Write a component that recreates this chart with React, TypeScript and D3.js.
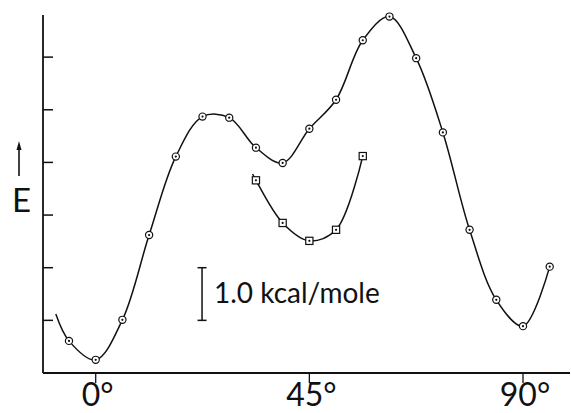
import React from "react";
import * as d3 from "d3";

// Torsion angle (degrees) and relative energy (kcal/mole)
const circleAngles = [-5.625, 0, 5.625, 11.25, 16.875, 22.5, 28.125, 33.75, 39.375, 45, 50.625, 56.25, 61.875, 67.5, 73.125, 78.75, 84.375, 90, 95.625];
const circleEnergies = [0.61, 0.25, 1.01, 2.62, 4.11, 4.87, 4.85, 4.28, 3.99, 4.64, 5.19, 6.32, 6.77, 5.98, 4.57, 2.72, 1.39, 0.89, 2.02];
const circleLeadIn = { angle: -8.4, energy: 1.12 };

const squareAngles = [33.75, 39.375, 45, 50.625, 56.25];
const squareEnergies = [3.66, 2.85, 2.51, 2.72, 4.12];
const squareLeadIn = { angle: 33.05, energy: 3.78 };

const xTicks = [0, 45, 90];
const xTickLabels = ["0°", "45°", "90°"];
const yTicks = [1, 2, 3, 4, 5, 6];
const scaleBarLabel = "1.0 kcal/mole";

const W = 571;
const H = 413;

export default function App() {
  const x = d3.scaleLinear().domain([-11.1, 99.9]).range([43, 570]);
  const y = d3.scaleLinear().domain([0, 6.8]).range([373, 15]);

  const circlePts: [number, number][] = circleAngles.map((a, i) => [a, circleEnergies[i]]);
  const squarePts: [number, number][] = squareAngles.map((a, i) => [a, squareEnergies[i]]);

  const line = d3
    .line<[number, number]>()
    .x((d) => x(d[0]))
    .y((d) => y(d[1]))
    .curve(d3.curveCatmullRom.alpha(0.5));

  const mainPath = line([[circleLeadIn.angle, circleLeadIn.energy], ...circlePts]) || "";
  const sqPath = line([[squareLeadIn.angle, squareLeadIn.energy], ...squarePts]) || "";

  const font = "Lato, 'DejaVu Sans', sans-serif";
  const barX = x(22.4);
  const barTop = y(2.0);
  const barBot = y(1.0);

  return (
    <svg
      width={W}
      height={H}
      style={{ position: "absolute", left: 0, top: 0, background: "#fff" }}
    >
      {/* axes */}
      <line x1={x.range()[0]} x2={x.range()[0]} y1={y.range()[1]} y2={y.range()[0]} stroke="#111" strokeWidth={1.8} />
      <line x1={x.range()[0]} x2={x.range()[1]} y1={y.range()[0]} y2={y.range()[0]} stroke="#111" strokeWidth={1.8} />
      {yTicks.map((t) => (
        <line key={t} x1={x.range()[0]} x2={x.range()[0] + 10} y1={y(t)} y2={y(t)} stroke="#111" strokeWidth={1.5} />
      ))}
      {xTicks.map((t, i) => (
        <g key={t}>
          <line x1={x(t)} x2={x(t)} y1={y.range()[0]} y2={y.range()[0] + 10} stroke="#111" strokeWidth={1.3} />
          <text x={x(t) + 2} y={406} textAnchor="middle" fontFamily={font} fontSize={32} fill="#111">
            {xTickLabels[i]}
          </text>
        </g>
      ))}

      {/* E label with arrow */}
      <line x1={19} x2={19} y1={176} y2={147} stroke="#111" strokeWidth={1.6} />
      <path d="M19,141 L16.5,150 L21.5,150 Z" fill="#111" />
      <text x={12} y={212} fontFamily={font} fontSize={33} fill="#111">E</text>

      {/* curves */}
      <path d={mainPath} fill="none" stroke="#111" strokeWidth={1.5} />
      <path d={sqPath} fill="none" stroke="#111" strokeWidth={1.5} />

      {/* markers */}
      {circlePts.map((d, i) => (
        <g key={"c" + i}>
          <circle cx={x(d[0])} cy={y(d[1])} r={3.6} fill="#fff" stroke="#111" strokeWidth={1.2} />
          <circle cx={x(d[0])} cy={y(d[1])} r={1.1} fill="#111" />
        </g>
      ))}
      {squarePts.map((d, i) => (
        <g key={"s" + i}>
          <rect x={x(d[0]) - 3.6} y={y(d[1]) - 3.6} width={7.2} height={7.2} fill="#fff" stroke="#111" strokeWidth={1.2} />
          <circle cx={x(d[0])} cy={y(d[1])} r={1.1} fill="#111" />
        </g>
      ))}

      {/* scale bar */}
      <line x1={barX} x2={barX} y1={barTop} y2={barBot} stroke="#111" strokeWidth={1.5} />
      <line x1={barX - 4.5} x2={barX + 4.5} y1={barTop} y2={barTop} stroke="#111" strokeWidth={1.5} />
      <line x1={barX - 4.5} x2={barX + 4.5} y1={barBot} y2={barBot} stroke="#111" strokeWidth={1.5} />
      <text x={214} y={303} fontFamily={font} fontSize={28} fill="#111">
        {scaleBarLabel}
      </text>
    </svg>
  );
}
